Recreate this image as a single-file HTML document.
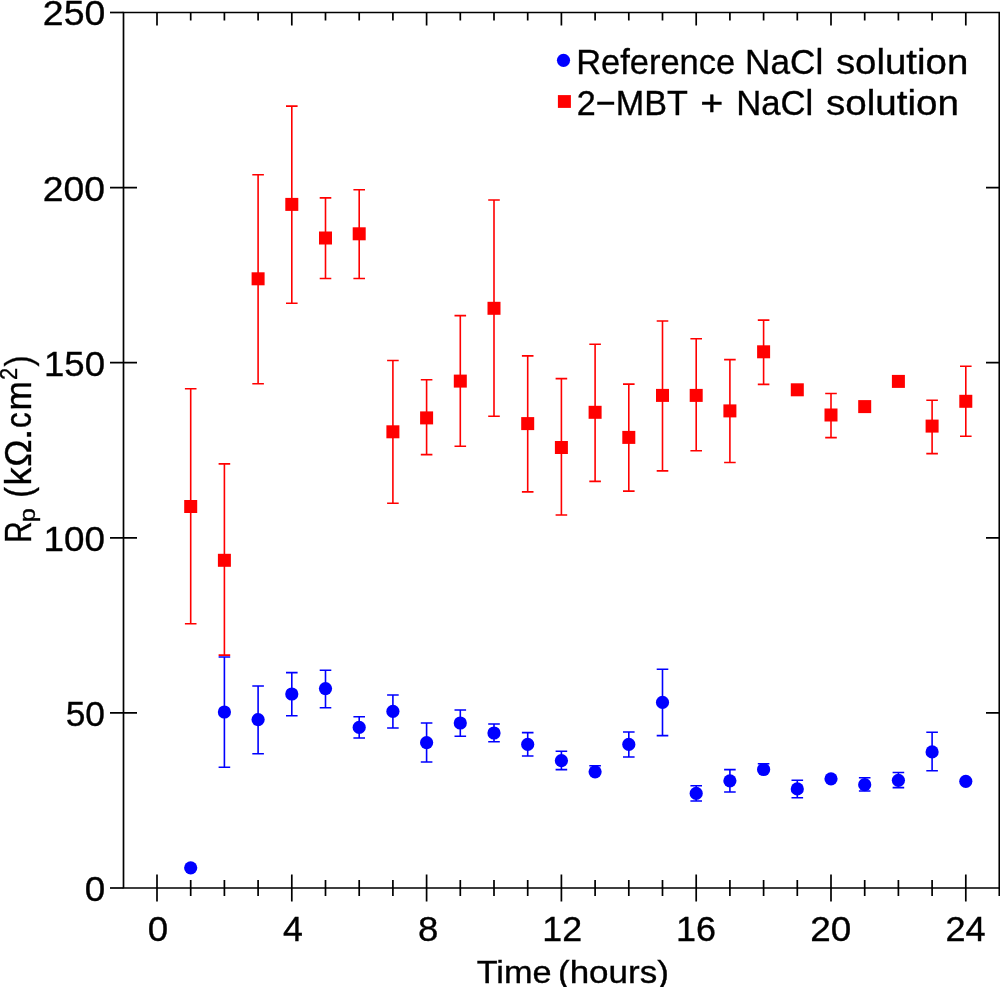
<!DOCTYPE html>
<html><head><meta charset="utf-8"><title>Rp chart</title>
<style>
html,body{margin:0;padding:0;background:#fff;}
body{width:1000px;height:987px;overflow:hidden;font-family:"Liberation Sans",sans-serif;}
svg{display:block;}
svg{will-change:transform;}
</style></head><body>
<svg width="1000" height="987" viewBox="0 0 1000 987">
<rect width="1000" height="987" fill="#fff"/>
<g stroke="#000" stroke-width="1.7" fill="none" stroke-linecap="butt">
<path d="M123.5,12.5 H999.3 V888.0 H123.5 Z"/>
<path d="M110,888.0 H123.5"/>
<path d="M110,712.9 H137 M986,712.9 H999.3"/>
<path d="M110,537.8 H137 M986,537.8 H999.3"/>
<path d="M110,362.7 H137 M986,362.7 H999.3"/>
<path d="M110,187.6 H137 M986,187.6 H999.3"/>
<path d="M110,12.5 H123.5"/>
<path d="M157.0,874.5 V901.5 M157.0,12.5 V25.5"/>
<path d="M190.7,880.0 V896.0 M190.7,12.5 V20.5"/>
<path d="M224.4,880.0 V896.0 M224.4,12.5 V20.5"/>
<path d="M258.1,880.0 V896.0 M258.1,12.5 V20.5"/>
<path d="M291.8,874.5 V901.5 M291.8,12.5 V25.5"/>
<path d="M325.5,880.0 V896.0 M325.5,12.5 V20.5"/>
<path d="M359.2,880.0 V896.0 M359.2,12.5 V20.5"/>
<path d="M392.9,880.0 V896.0 M392.9,12.5 V20.5"/>
<path d="M426.6,874.5 V901.5 M426.6,12.5 V25.5"/>
<path d="M460.3,880.0 V896.0 M460.3,12.5 V20.5"/>
<path d="M494.0,880.0 V896.0 M494.0,12.5 V20.5"/>
<path d="M527.7,880.0 V896.0 M527.7,12.5 V20.5"/>
<path d="M561.4,874.5 V901.5 M561.4,12.5 V25.5"/>
<path d="M595.1,880.0 V896.0 M595.1,12.5 V20.5"/>
<path d="M628.8,880.0 V896.0 M628.8,12.5 V20.5"/>
<path d="M662.5,880.0 V896.0 M662.5,12.5 V20.5"/>
<path d="M696.2,874.5 V901.5 M696.2,12.5 V25.5"/>
<path d="M729.9,880.0 V896.0 M729.9,12.5 V20.5"/>
<path d="M763.6,880.0 V896.0 M763.6,12.5 V20.5"/>
<path d="M797.3,880.0 V896.0 M797.3,12.5 V20.5"/>
<path d="M831.0,874.5 V901.5 M831.0,12.5 V25.5"/>
<path d="M864.7,880.0 V896.0 M864.7,12.5 V20.5"/>
<path d="M898.4,880.0 V896.0 M898.4,12.5 V20.5"/>
<path d="M932.1,880.0 V896.0 M932.1,12.5 V20.5"/>
<path d="M965.8,874.5 V901.5 M965.8,12.5 V25.5"/>
<path d="M999.3,888.0 V896.0"/>
</g>
<g stroke="#ff0000" stroke-width="1.6" fill="none">
<path d="M190.7,388.8 V623.8 M184.90,388.8 H196.50 M184.90,623.8 H196.50"/>
<path d="M224.4,463.9 V655.1 M218.60,463.9 H230.20 M218.60,655.1 H230.20"/>
<path d="M258.1,174.7 V383.7 M252.30,174.7 H263.90 M252.30,383.7 H263.90"/>
<path d="M291.8,106.1 V303.2 M286.00,106.1 H297.60 M286.00,303.2 H297.60"/>
<path d="M325.5,197.9 V278.5 M319.70,197.9 H331.30 M319.70,278.5 H331.30"/>
<path d="M359.2,189.7 V278.5 M353.40,189.7 H365.00 M353.40,278.5 H365.00"/>
<path d="M392.9,360.5 V503.2 M387.10,360.5 H398.70 M387.10,503.2 H398.70"/>
<path d="M426.6,379.8 V454.6 M420.80,379.8 H432.40 M420.80,454.6 H432.40"/>
<path d="M460.3,315.6 V446.3 M454.50,315.6 H466.10 M454.50,446.3 H466.10"/>
<path d="M494.0,200.0 V416.2 M488.20,200.0 H499.80 M488.20,416.2 H499.80"/>
<path d="M527.7,355.9 V491.9 M521.90,355.9 H533.50 M521.90,491.9 H533.50"/>
<path d="M561.4,378.6 V515.0 M555.60,378.6 H567.20 M555.60,515.0 H567.20"/>
<path d="M595.1,344.2 V481.4 M589.30,344.2 H600.90 M589.30,481.4 H600.90"/>
<path d="M628.8,384.1 V491.1 M623.00,384.1 H634.60 M623.00,491.1 H634.60"/>
<path d="M662.5,321.0 V470.9 M656.70,321.0 H668.30 M656.70,470.9 H668.30"/>
<path d="M696.2,338.8 V450.8 M690.40,338.8 H702.00 M690.40,450.8 H702.00"/>
<path d="M729.9,359.6 V462.5 M724.10,359.6 H735.70 M724.10,462.5 H735.70"/>
<path d="M763.6,320.1 V384.4 M757.80,320.1 H769.40 M757.80,384.4 H769.40"/>
<path d="M831.0,393.5 V437.6 M825.20,393.5 H836.80 M825.20,437.6 H836.80"/>
<path d="M932.1,400.3 V453.6 M926.30,400.3 H937.90 M926.30,453.6 H937.90"/>
<path d="M965.8,366.2 V436.2 M960.00,366.2 H971.60 M960.00,436.2 H971.60"/>
</g>
<g fill="#ff0000">
<rect x="184.20" y="500.00" width="13" height="13"/>
<rect x="217.90" y="553.80" width="13" height="13"/>
<rect x="251.60" y="272.30" width="13" height="13"/>
<rect x="285.30" y="197.90" width="13" height="13"/>
<rect x="319.00" y="231.50" width="13" height="13"/>
<rect x="352.70" y="227.30" width="13" height="13"/>
<rect x="386.40" y="425.30" width="13" height="13"/>
<rect x="420.10" y="411.40" width="13" height="13"/>
<rect x="453.80" y="374.60" width="13" height="13"/>
<rect x="487.50" y="301.80" width="13" height="13"/>
<rect x="521.20" y="417.10" width="13" height="13"/>
<rect x="554.90" y="441.00" width="13" height="13"/>
<rect x="588.60" y="405.80" width="13" height="13"/>
<rect x="622.30" y="430.90" width="13" height="13"/>
<rect x="656.00" y="388.90" width="13" height="13"/>
<rect x="689.70" y="388.90" width="13" height="13"/>
<rect x="723.40" y="404.40" width="13" height="13"/>
<rect x="757.10" y="345.30" width="13" height="13"/>
<rect x="790.80" y="383.30" width="13" height="13"/>
<rect x="824.50" y="408.50" width="13" height="13"/>
<rect x="858.20" y="400.10" width="13" height="13"/>
<rect x="891.90" y="374.90" width="13" height="13"/>
<rect x="925.60" y="419.60" width="13" height="13"/>
<rect x="959.30" y="394.80" width="13" height="13"/>
</g>
<g stroke="#0000ff" stroke-width="1.6" fill="none">
<path d="M224.4,657.0 V767.2 M218.60,657.0 H230.20 M218.60,767.2 H230.20"/>
<path d="M258.1,686.0 V753.8 M252.30,686.0 H263.90 M252.30,753.8 H263.90"/>
<path d="M291.8,672.6 V715.8 M286.00,672.6 H297.60 M286.00,715.8 H297.60"/>
<path d="M325.5,670.2 V707.8 M319.70,670.2 H331.30 M319.70,707.8 H331.30"/>
<path d="M359.2,716.8 V738.0 M353.40,716.8 H365.00 M353.40,738.0 H365.00"/>
<path d="M392.9,695.0 V728.0 M387.10,695.0 H398.70 M387.10,728.0 H398.70"/>
<path d="M426.6,723.0 V762.0 M420.80,723.0 H432.40 M420.80,762.0 H432.40"/>
<path d="M460.3,710.0 V736.2 M454.50,710.0 H466.10 M454.50,736.2 H466.10"/>
<path d="M494.0,724.0 V741.8 M488.20,724.0 H499.80 M488.20,741.8 H499.80"/>
<path d="M527.7,732.6 V756.0 M521.90,732.6 H533.50 M521.90,756.0 H533.50"/>
<path d="M561.4,751.2 V769.6 M555.60,751.2 H567.20 M555.60,769.6 H567.20"/>
<path d="M595.1,765.8 V771.8 M589.30,765.8 H600.90 M589.30,771.8 H600.90"/>
<path d="M628.8,732.0 V757.0 M623.00,732.0 H634.60 M623.00,757.0 H634.60"/>
<path d="M662.5,669.2 V735.6 M656.70,669.2 H668.30 M656.70,735.6 H668.30"/>
<path d="M696.2,785.8 V801.0 M690.40,785.8 H702.00 M690.40,801.0 H702.00"/>
<path d="M729.9,769.6 V792.0 M724.10,769.6 H735.70 M724.10,792.0 H735.70"/>
<path d="M763.6,763.8 V769.5 M757.80,763.8 H769.40 M757.80,769.5 H769.40"/>
<path d="M797.3,780.3 V797.7 M791.50,780.3 H803.10 M791.50,797.7 H803.10"/>
<path d="M864.7,777.7 V791.0 M858.90,777.7 H870.50 M858.90,791.0 H870.50"/>
<path d="M898.4,772.5 V787.6 M892.60,772.5 H904.20 M892.60,787.6 H904.20"/>
<path d="M932.1,732.2 V770.8 M926.30,732.2 H937.90 M926.30,770.8 H937.90"/>
</g>
<g fill="#0000ff">
<circle cx="190.7" cy="867.8" r="6.6"/>
<circle cx="224.4" cy="712.0" r="6.6"/>
<circle cx="258.1" cy="719.6" r="6.6"/>
<circle cx="291.8" cy="694.0" r="6.6"/>
<circle cx="325.5" cy="688.6" r="6.6"/>
<circle cx="359.2" cy="727.4" r="6.6"/>
<circle cx="392.9" cy="711.4" r="6.6"/>
<circle cx="426.6" cy="742.6" r="6.6"/>
<circle cx="460.3" cy="723.0" r="6.6"/>
<circle cx="494.0" cy="733.0" r="6.6"/>
<circle cx="527.7" cy="744.4" r="6.6"/>
<circle cx="561.4" cy="760.6" r="6.6"/>
<circle cx="595.1" cy="771.8" r="6.6"/>
<circle cx="628.8" cy="744.4" r="6.6"/>
<circle cx="662.5" cy="702.4" r="6.6"/>
<circle cx="696.2" cy="793.4" r="6.6"/>
<circle cx="729.9" cy="780.8" r="6.6"/>
<circle cx="763.6" cy="769.5" r="6.6"/>
<circle cx="797.3" cy="788.9" r="6.6"/>
<circle cx="831.0" cy="778.8" r="6.6"/>
<circle cx="864.7" cy="784.7" r="6.6"/>
<circle cx="898.4" cy="780.3" r="6.6"/>
<circle cx="932.1" cy="751.9" r="6.6"/>
<circle cx="965.8" cy="781.3" r="6.6"/>
</g>
<g font-family="Liberation Sans, sans-serif" stroke="#000" stroke-width="0.35" fill="#000">
<text x="84.76" y="900.90" font-size="35.6" textLength="20.48" lengthAdjust="spacingAndGlyphs" >0</text>
<text x="65.69" y="725.80" font-size="35.6" textLength="39.30" lengthAdjust="spacingAndGlyphs" >50</text>
<text x="43.60" y="550.70" font-size="35.6" textLength="61.45" lengthAdjust="spacingAndGlyphs" >100</text>
<text x="44.02" y="375.60" font-size="35.6" textLength="61.02" lengthAdjust="spacingAndGlyphs" >150</text>
<text x="42.83" y="200.50" font-size="35.6" textLength="62.24" lengthAdjust="spacingAndGlyphs" >200</text>
<text x="42.83" y="25.40" font-size="35.6" textLength="62.45" lengthAdjust="spacingAndGlyphs" >250</text>
<text x="147.87" y="940.50" font-size="35.6" textLength="20.42" lengthAdjust="spacingAndGlyphs" >0</text>
<text x="282.98" y="940.50" font-size="35.6" textLength="19.86" lengthAdjust="spacingAndGlyphs" >4</text>
<text x="418.03" y="940.50" font-size="35.6" textLength="20.35" lengthAdjust="spacingAndGlyphs" >8</text>
<text x="542.38" y="940.50" font-size="35.6" textLength="39.82" lengthAdjust="spacingAndGlyphs" >12</text>
<text x="675.96" y="940.50" font-size="35.6" textLength="40.03" lengthAdjust="spacingAndGlyphs" >16</text>
<text x="810.26" y="940.50" font-size="35.6" textLength="40.99" lengthAdjust="spacingAndGlyphs" >20</text>
<text x="945.49" y="940.50" font-size="35.6" textLength="40.16" lengthAdjust="spacingAndGlyphs" >24</text>
</g>
<circle cx="563.5" cy="60.3" r="6.6" fill="#0000ff"/>
<rect x="557.9" y="95.1" width="13" height="12.8" fill="#ff0000"/>
<g font-family="Liberation Sans, sans-serif" stroke="#000" stroke-width="0.35" fill="#000">
<text x="576.18" y="73.75" font-size="35.5" textLength="158.93" lengthAdjust="spacingAndGlyphs" >Reference</text>
<text x="745.11" y="73.75" font-size="35.5" textLength="78.23" lengthAdjust="spacingAndGlyphs" >NaCl</text>
<text x="835.92" y="73.75" font-size="35.5" textLength="132.36" lengthAdjust="spacingAndGlyphs" >solution</text>
<text x="576.79" y="114.60" font-size="35.5" textLength="110.99" lengthAdjust="spacingAndGlyphs" >2−MBT</text>
<text x="700.26" y="114.60" font-size="35.5" textLength="23.07" lengthAdjust="spacingAndGlyphs" >+</text>
<text x="736.15" y="114.60" font-size="35.5" textLength="77.16" lengthAdjust="spacingAndGlyphs" >NaCl</text>
<text x="825.92" y="114.60" font-size="35.5" textLength="132.98" lengthAdjust="spacingAndGlyphs" >solution</text>
</g>
<g font-family="Liberation Sans, sans-serif" stroke="#000" stroke-width="0.35" fill="#000">
<text x="476.65" y="982.50" font-size="31.7" textLength="74.86" lengthAdjust="spacingAndGlyphs" >Time</text>
<text x="558.03" y="982.50" font-size="31.7" textLength="110.82" lengthAdjust="spacingAndGlyphs" >(hours)</text>
</g>
<g transform="translate(30.9,541) rotate(-90)" font-family="Liberation Sans, sans-serif" stroke="#000" stroke-width="0.35" fill="#000">
<text x="-2.06" y="0.00" font-size="36" textLength="21.68" lengthAdjust="spacingAndGlyphs" >R</text>
<text x="18.68" y="4.20" font-size="22" textLength="14.09" lengthAdjust="spacingAndGlyphs" >p</text>
<text x="43.29" y="0.00" font-size="36" textLength="10.81" lengthAdjust="spacingAndGlyphs" >(</text>
<text x="55.48" y="0.00" font-size="36" textLength="18.09" lengthAdjust="spacingAndGlyphs" >k</text>
<text x="74.16" y="0.00" font-size="36" textLength="27.40" lengthAdjust="spacingAndGlyphs" >Ω</text>
<text x="100.42" y="0.00" font-size="36" textLength="12.44" lengthAdjust="spacingAndGlyphs" >.</text>
<text x="112.88" y="0.00" font-size="36" textLength="15.74" lengthAdjust="spacingAndGlyphs" >c</text>
<text x="130.47" y="0.00" font-size="36" textLength="29.47" lengthAdjust="spacingAndGlyphs" >m</text>
<text x="160.90" y="-14.20" font-size="23.2" textLength="12.20" lengthAdjust="spacingAndGlyphs" >2</text>
<text x="174.60" y="0.00" font-size="36" textLength="11.18" lengthAdjust="spacingAndGlyphs" >)</text>
</g>
</svg>
</body></html>
